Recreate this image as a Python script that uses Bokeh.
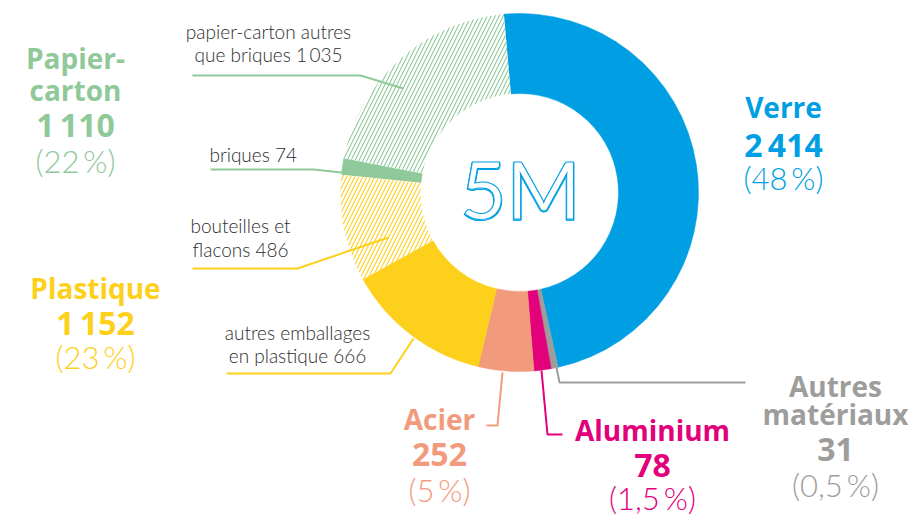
import numpy as np
from bokeh.plotting import figure
from bokeh.models import Range1d, ColumnDataSource
from bokeh.core.properties import value
from bokeh.embed import file_html
from bokeh.resources import INLINE

# ---- data (thousand tonnes) ----
ring_labels = ["Verre", "Autres matériaux", "Aluminium", "Acier",
               "autres emballages en plastique", "bouteilles et flacons",
               "briques", "papier-carton autres que briques"]
ring_values = [2414, 31, 78, 252, 666, 486, 74, 1035]
ring_hatched = [False, False, False, False, False, True, False, True]

materials = ["Verre", "Autres matériaux", "Aluminium", "Acier", "Plastique", "Papier-carton"]
material_totals = ["2\u2009414", "31", "78", "252", "1\u2009152", "1\u2009110"]
material_pcts = ["(48\u2009%)", "(0,5\u2009%)", "(1,5\u2009%)", "(5\u2009%)", "(23\u2009%)", "(22\u2009%)"]
center_label = "5M"

# ---- styles ----
BLUE = "#009FE3"; GRAY = "#9D9D9C"; PINK = "#E3007B"; SALMON = "#F29B7C"
YELLOW = "#FDD01C"; GREEN = "#8FC99A"; DARK = "#2E2E2E"
ring_colors = [BLUE, GRAY, PINK, SALMON, YELLOW, YELLOW, GREEN, GREEN]

W, H = 911, 518
p = figure(width=W, height=H, output_backend="svg", toolbar_location=None,
           x_range=Range1d(0, W), y_range=Range1d(0, H), min_border=0)
p.axis.visible = False
p.grid.visible = False
p.outline_line_color = None
p.background_fill_color = "white"

def Y(y):
    return H - y

# ---- donut ----
cx, cy = 519, Y(192)
r_in, r_out = 99, 179
vals = np.array(ring_values, dtype=float)
frac = np.concatenate([[0], np.cumsum(vals)]) / vals.sum()
start_deg = 95.0
starts = np.radians(start_deg - frac[:-1] * 360)
ends = np.radians(start_deg - frac[1:] * 360)

solid = [i for i, h in enumerate(ring_hatched) if not h]
hatch = [i for i, h in enumerate(ring_hatched) if h]
src_s = ColumnDataSource(dict(start=starts[solid], end=ends[solid],
                              color=[ring_colors[i] for i in solid]))
src_h = ColumnDataSource(dict(start=starts[hatch], end=ends[hatch],
                              color=[ring_colors[i] for i in hatch]))
p.annular_wedge(x=cx, y=cy, inner_radius=r_in, outer_radius=r_out,
                start_angle="start", end_angle="end", direction="clock",
                fill_color="color", line_color="color", line_width=0.5, source=src_s)
p.annular_wedge(x=cx, y=cy, inner_radius=r_in, outer_radius=r_out,
                start_angle="start", end_angle="end", direction="clock",
                fill_color="white", line_color=None, hatch_pattern="/",
                hatch_color="color", hatch_scale=8, hatch_weight=1.1, source=src_h)

# centre label: outlined ("inline") text, drawn with tiny offsets to thicken strokes
for dx, dy in [(-0.5, 0), (0.5, 0), (0, -0.5), (0, 0.5)]:
    p.text(x=[520 + dx], y=[Y(188) + dy], text=[center_label], text_color="white",
           text_outline_color=BLUE, text_font=value("Lato"), text_font_size="80px",
           text_align="center", text_baseline="middle")

# ---- leader lines ----
leaders = [
    ([192, 360, 403], [75, 75, 88], GREEN),
    ([210, 313, 341], [169, 169, 172], GREEN),
    ([192, 297, 388], [268, 268, 237], YELLOW),
    ([226, 390, 413], [373, 373, 338], YELLOW),
    ([486, 497, 502], [425, 425, 372], SALMON),
    ([562, 547, 541], [434, 434, 370], PINK),
    ([745, 559, 556], [382, 382, 367], GRAY),
]
for xs, ys, c in leaders:
    p.line(xs, [Y(v) for v in ys], line_color=c, line_width=2)

# ---- small sub-labels ----
sub_text = ["papier-carton autres", "que briques 1\u2009035", "briques 74",
            "bouteilles et", "flacons 486", "autres emballages", "en plastique 666"]
sub_x = [268, 268, 209, 240, 240, 297, 297]
sub_y = [39, 62, 162, 233, 257, 340, 363]
sub_align = ["center", "center", "left", "center", "center", "center", "center"]
p.text(x=sub_x, y=[Y(v - 8) for v in sub_y], text=sub_text, text_align=sub_align,
       text_color=DARK, text_font=value("Lato Light, Lato"), text_font_size="19px",
       text_baseline="alphabetic")

# ---- main material labels ----
name_lines = [["Verre"], ["Autres", "matériaux"], ["Aluminium"], ["Acier"],
              ["Plastique"], ["Papier-", "carton"]]
name_x = [783, 835, 652, 439, 95, 75]
name_base = [[117], [396, 424], [440], [429], [298], [68, 100]]
tot_base = [156, 461, 477, 466, 334, 136]
pct_base = [189, 496, 509, 501, 368, 172]
mat_colors = [BLUE, GRAY, PINK, SALMON, YELLOW, GREEN]

nx, ny, nt, nc = [], [], [], []
for i in range(len(materials)):
    for ln, b in zip(name_lines[i], name_base[i]):
        nx.append(name_x[i]); ny.append(Y(b - 11)); nt.append(ln); nc.append(mat_colors[i])
p.text(x=nx, y=ny, text=nt, text_color=nc, text_font=value("Open Sans"),
       text_font_style="bold", text_font_size="28px", text_align="center",
       text_baseline="alphabetic")
p.text(x=name_x, y=[Y(v - 12) for v in tot_base], text=material_totals, text_color=mat_colors,
       text_font=value("Open Sans"), text_font_style="bold", text_font_size="32px",
       text_align="center", text_baseline="alphabetic")
p.text(x=name_x, y=[Y(v - 12) for v in pct_base], text=material_pcts, text_color=mat_colors,
       text_font=value("Lato Light, Lato"), text_font_size="31px",
       text_align="center", text_baseline="alphabetic")

open("out.html", "w").write(file_html(p, INLINE))
